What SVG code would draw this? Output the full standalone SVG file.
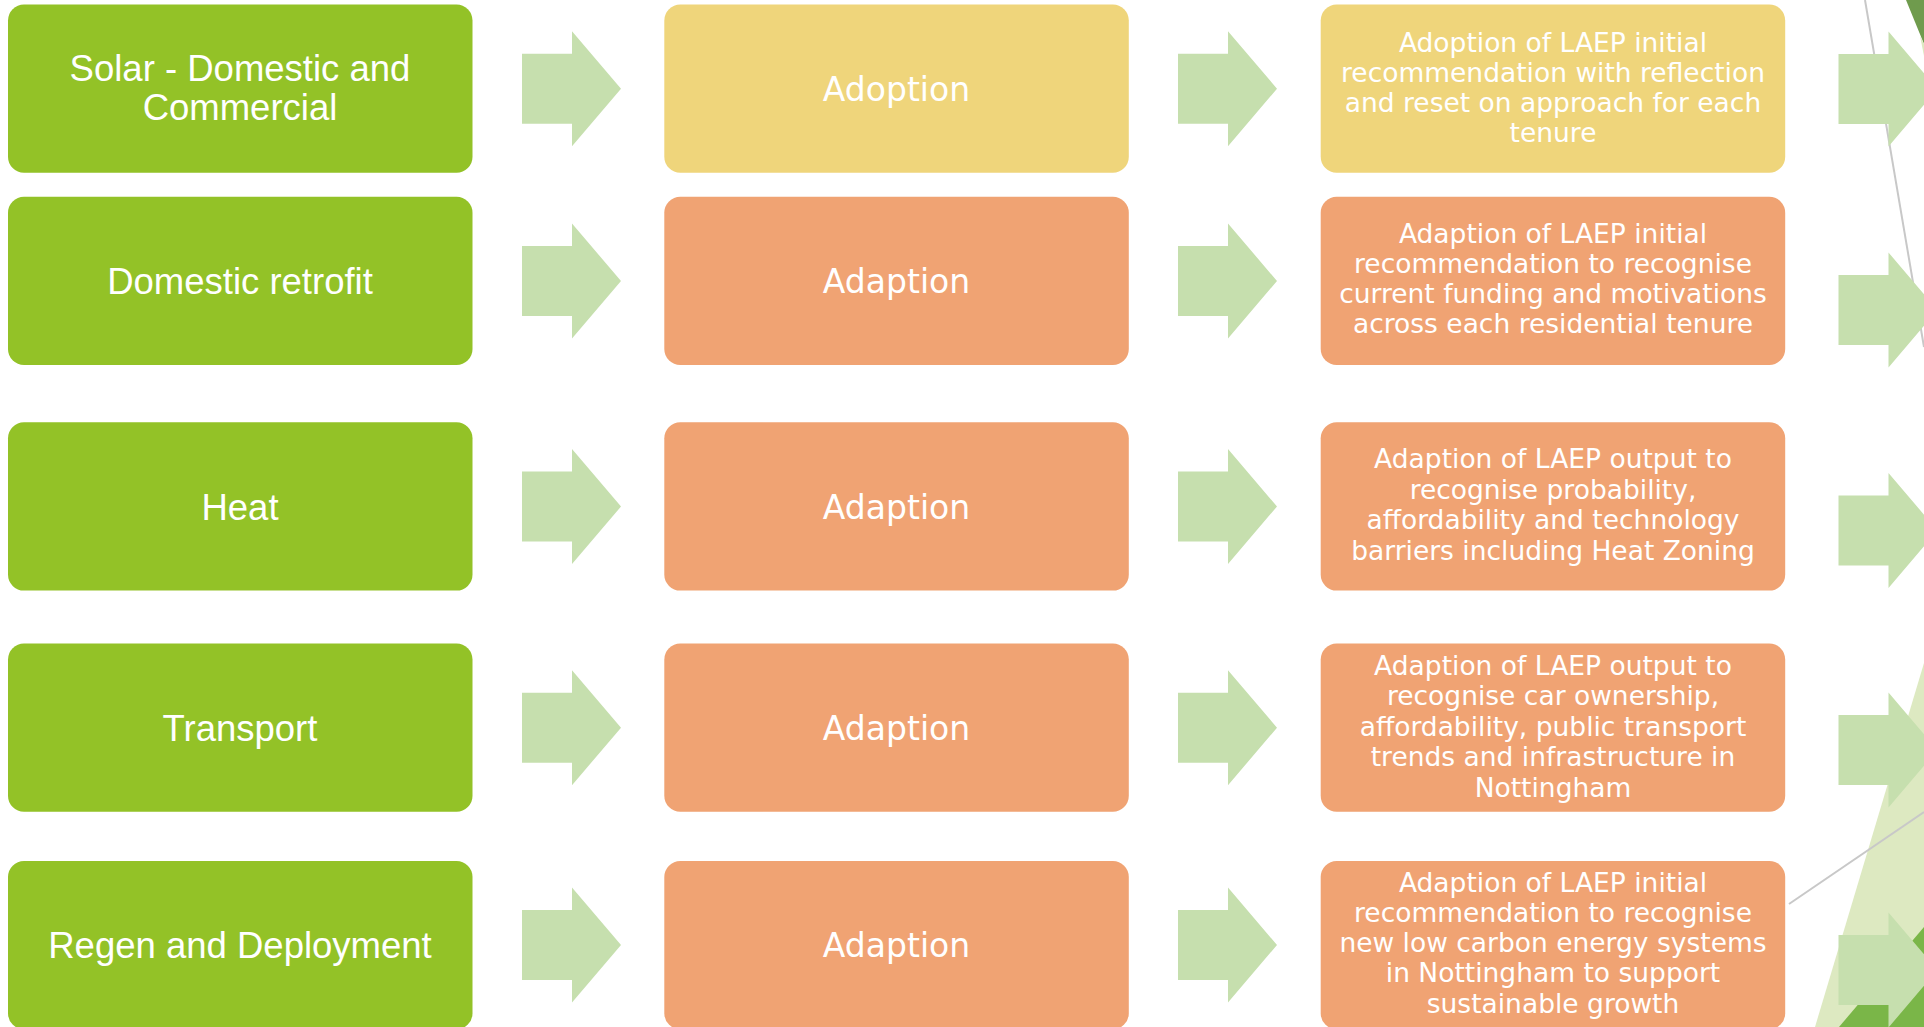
<svg xmlns="http://www.w3.org/2000/svg" xmlns:xlink="http://www.w3.org/1999/xlink" width="1924" height="1027" viewBox="0 0 1924 1027">
<style>
.box{stroke:none}
.g{fill:#93c227}
.y{fill:#efd57b}
.o{fill:#f0a373}
.arrow{fill:#c6dfae}
.t1{font-family:"Liberation Sans",Arial,sans-serif;font-size:36.5px;fill:#ffffff;text-anchor:middle}
.t2{font-family:"DejaVu Sans",Verdana,sans-serif;font-size:33px;fill:#ffffff;text-anchor:middle}
.t3{font-family:"DejaVu Sans",Verdana,sans-serif;font-size:26.5px;fill:#ffffff;text-anchor:middle}
.ln{stroke:#c8c8c8;stroke-width:2;fill:none}
</style>
<defs>
<path id="arw" d="M0,-35 H50 V-57.5 L99,0 L50,57.5 V35 H0 Z"/>
</defs>
<rect width="1924" height="1027" fill="#ffffff"/>
<g id="decor">
<polygon points="1815,1027 1924,663 1924,1027" fill="#dde9c1"/>
<polygon points="1924,927 1839,1027 1924,1027" fill="#7ab648"/>
<polygon points="1906,0 1924,0 1924,44" fill="#6f9b4d"/>
<polygon points="1920,36 1924,44 1924,56" fill="#dde9c1"/>
<line class="ln" x1="1865" y1="0" x2="1924" y2="347"/>
<line class="ln" x1="1789" y1="904" x2="1924" y2="812"/>
</g>
<g id="connectors">
<use href="#arw" class="arrow" x="522" y="88.7"/>
<use href="#arw" class="arrow" x="1178" y="88.7"/>
<use href="#arw" class="arrow" x="1838.5" y="89"/>
<use href="#arw" class="arrow" x="522" y="281"/>
<use href="#arw" class="arrow" x="1178" y="281"/>
<use href="#arw" class="arrow" x="1838.5" y="310"/>
<use href="#arw" class="arrow" x="522" y="506.5"/>
<use href="#arw" class="arrow" x="1178" y="506.5"/>
<use href="#arw" class="arrow" x="1838.5" y="530.5"/>
<use href="#arw" class="arrow" x="522" y="727.7"/>
<use href="#arw" class="arrow" x="1178" y="727.7"/>
<use href="#arw" class="arrow" x="1838.5" y="750"/>
<use href="#arw" class="arrow" x="522" y="945"/>
<use href="#arw" class="arrow" x="1178" y="945"/>
<use href="#arw" class="arrow" x="1838.5" y="970"/>
</g>
<g id="n-solar">
<rect class="box g" x="8" y="4.5" width="464.5" height="168.3" rx="16"/>
<text class="t1" x="240" y="81">Solar - Domestic and</text>
<text class="t1" x="240" y="120">Commercial</text>
</g>
<g id="n-solar-status">
<rect class="box y" x="664.3" y="4.5" width="464.5" height="168.3" rx="16"/>
<text class="t2" x="896.5" y="100.7">Adoption</text>
</g>
<g id="n-solar-detail">
<rect class="box y" x="1320.7" y="4.5" width="464.5" height="168.3" rx="16"/>
<text class="t3" x="1553" y="51.7">Adoption of LAEP initial</text>
<text class="t3" x="1553" y="81.7">recommendation with reflection</text>
<text class="t3" x="1553" y="111.7">and reset on approach for each</text>
<text class="t3" x="1553" y="141.7">tenure</text>
</g>
<g id="n-retrofit">
<rect class="box g" x="8" y="196.7" width="464.5" height="168.3" rx="16"/>
<text class="t1" x="240" y="294">Domestic retrofit</text>
</g>
<g id="n-retrofit-status">
<rect class="box o" x="664.3" y="196.7" width="464.5" height="168.3" rx="16"/>
<text class="t2" x="896.5" y="292.8">Adaption</text>
</g>
<g id="n-retrofit-detail">
<rect class="box o" x="1320.7" y="196.7" width="464.5" height="168.3" rx="16"/>
<text class="t3" x="1553" y="242.5">Adaption of LAEP initial</text>
<text class="t3" x="1553" y="272.5">recommendation to recognise</text>
<text class="t3" x="1553" y="302.5">current funding and motivations</text>
<text class="t3" x="1553" y="332.5">across each residential tenure</text>
</g>
<g id="n-heat">
<rect class="box g" x="8" y="422.3" width="464.5" height="168.3" rx="16"/>
<text class="t1" x="240" y="519.6">Heat</text>
</g>
<g id="n-heat-status">
<rect class="box o" x="664.3" y="422.3" width="464.5" height="168.3" rx="16"/>
<text class="t2" x="896.5" y="518.5">Adaption</text>
</g>
<g id="n-heat-detail">
<rect class="box o" x="1320.7" y="422.3" width="464.5" height="168.3" rx="16"/>
<text class="t3" x="1553" y="468.3">Adaption of LAEP output to</text>
<text class="t3" x="1553" y="498.8">recognise probability,</text>
<text class="t3" x="1553" y="529.3">affordability and technology</text>
<text class="t3" x="1553" y="559.8">barriers including Heat Zoning</text>
</g>
<g id="n-transport">
<rect class="box g" x="8" y="643.5" width="464.5" height="168.3" rx="16"/>
<text class="t1" x="240" y="740.9">Transport</text>
</g>
<g id="n-transport-status">
<rect class="box o" x="664.3" y="643.5" width="464.5" height="168.3" rx="16"/>
<text class="t2" x="896.5" y="739.7">Adaption</text>
</g>
<g id="n-transport-detail">
<rect class="box o" x="1320.7" y="643.5" width="464.5" height="168.3" rx="16"/>
<text class="t3" x="1553" y="675">Adaption of LAEP output to</text>
<text class="t3" x="1553" y="705.4">recognise car ownership,</text>
<text class="t3" x="1553" y="735.8">affordability, public transport</text>
<text class="t3" x="1553" y="766.2">trends and infrastructure in</text>
<text class="t3" x="1553" y="796.6">Nottingham</text>
</g>
<g id="n-regen">
<rect class="box g" x="8" y="861" width="464.5" height="168.3" rx="16"/>
<text class="t1" x="240" y="958.2">Regen and Deployment</text>
</g>
<g id="n-regen-status">
<rect class="box o" x="664.3" y="861" width="464.5" height="168.3" rx="16"/>
<text class="t2" x="896.5" y="957">Adaption</text>
</g>
<g id="n-regen-detail">
<rect class="box o" x="1320.7" y="861" width="464.5" height="168.3" rx="16"/>
<text class="t3" x="1553" y="891.7">Adaption of LAEP initial</text>
<text class="t3" x="1553" y="921.9">recommendation to recognise</text>
<text class="t3" x="1553" y="952.1">new low carbon energy systems</text>
<text class="t3" x="1553" y="982.3">in Nottingham to support</text>
<text class="t3" x="1553" y="1012.5">sustainable growth</text>
</g>
</svg>
